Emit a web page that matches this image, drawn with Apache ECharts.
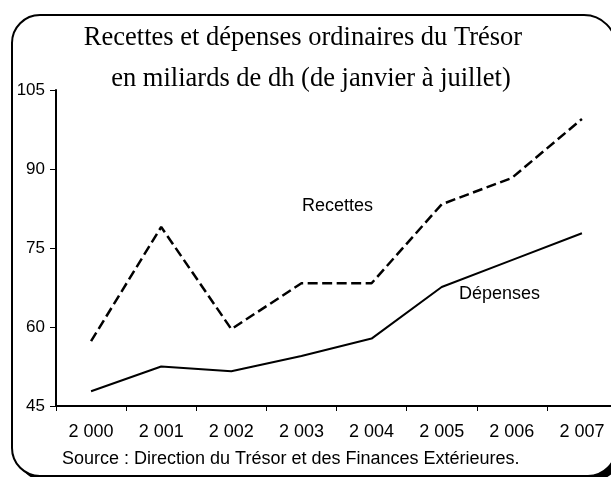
<!DOCTYPE html>
<html>
<head>
    <meta charset="UTF-8">
    <title>Recettes et dépenses ordinaires du Trésor</title>
    <script type="text/javascript" src="https://cdn.jsdelivr.net/npm/echarts@6/dist/echarts.min.js"></script>
</head>
<body style="margin:0">

<div id="main" style="height: 477px; width: 611px;"></div>
<script type="text/javascript">

    // valeurs (milliards de dh, janvier-juillet)
    var annees = ['2 000', '2 001', '2 002', '2 003', '2 004', '2 005', '2 006', '2 007'];
    var recettes = [57.3, 79.0, 59.6, 68.3, 68.3, 83.3, 88.3, 99.5];
    var depenses = [47.8, 52.5, 51.6, 54.5, 57.8, 67.6, 72.7, 77.8];
    var graduations = [45, 60, 75, 90, 105];

    var myChart = echarts.init(document.getElementById('main'));

    var sans = 'Liberation Sans, Arial, sans-serif';
    var serif = 'Liberation Serif, Times New Roman, serif';

    // cadre arrondi (il déborde à droite et en bas)
    var cadre = { x: 12, y: 15, width: 604, height: 461, r: [28, 32, 28, 28] };

    option = {
        backgroundColor: '#fff',
        animation: false,
        grid: {
            left: 56,
            top: 90,
            width: 561,
            height: 316,
            containLabel: false,
            outerBoundsMode: 'none'
        },
        xAxis: [{
            type: 'category',
            data: annees,
            boundaryGap: true,
            axisLine: {
                lineStyle: { color: '#000', width: 2 }
            },
            axisTick: {
                show: true,
                length: 5,
                lineStyle: { color: '#000', width: 1 }
            },
            axisLabel: {
                color: '#000',
                fontFamily: sans,
                fontSize: 18,
                margin: 17
            },
            splitLine: { show: false }
        }],
        yAxis: [{
            type: 'value',
            min: graduations[0],
            max: graduations[graduations.length - 1],
            interval: 15,
            axisLine: {
                show: true,
                lineStyle: { color: '#000', width: 2 }
            },
            axisTick: {
                show: true,
                length: 6,
                lineStyle: { color: '#000', width: 1 }
            },
            axisLabel: {
                color: '#000',
                fontFamily: sans,
                fontSize: 17,
                margin: 11
            },
            splitLine: { show: false }
        }],
        series: [{
            name: 'Recettes',
            type: 'line',
            data: recettes,
            symbol: 'none',
            z: 5,
            lineStyle: { color: '#000', width: 2.5, type: [10, 4.5] }
        }, {
            name: 'Dépenses',
            type: 'line',
            data: depenses,
            symbol: 'none',
            z: 5,
            lineStyle: { color: '#000', width: 2 }
        }],
        graphic: [{
            // fond blanc avec ombre portée (visible dans le coin bas droit)
            type: 'rect',
            z: -10,
            shape: cadre,
            style: { fill: '#fff', shadowColor: '#000', shadowBlur: 0, shadowOffsetX: 5, shadowOffsetY: 5 },
            silent: true
        }, {
            type: 'rect',
            z: 10,
            shape: cadre,
            style: { fill: 'none', stroke: '#000', lineWidth: 2 },
            silent: true
        }, {
            // titre, ligne 1
            type: 'text',
            z: 10,
            x: 303,
            y: 38,
            style: {
                text: 'Recettes et dépenses ordinaires du Trésor',
                fontFamily: serif, fontSize: 26.5, fill: '#000',
                align: 'center', verticalAlign: 'middle'
            }
        }, {
            // titre, ligne 2
            type: 'text',
            z: 10,
            x: 311,
            y: 79,
            style: {
                text: 'en miliards de dh (de janvier à juillet)',
                fontFamily: serif, fontSize: 26.5, fill: '#000',
                align: 'center', verticalAlign: 'middle'
            }
        }, {
            type: 'text',
            z: 10,
            left: 302,
            top: 197,
            style: { text: 'Recettes', fontFamily: sans, fontSize: 18, fill: '#000' }
        }, {
            type: 'text',
            z: 10,
            left: 459,
            top: 285,
            style: { text: 'Dépenses', fontFamily: sans, fontSize: 18, fill: '#000' }
        }, {
            type: 'text',
            z: 10,
            left: 62,
            top: 450,
            style: { text: 'Source : Direction du Trésor et des Finances Extérieures.', fontFamily: sans, fontSize: 18, fill: '#000' }
        }]
    };

    myChart.setOption(option);

</script>

</body>
</html>
